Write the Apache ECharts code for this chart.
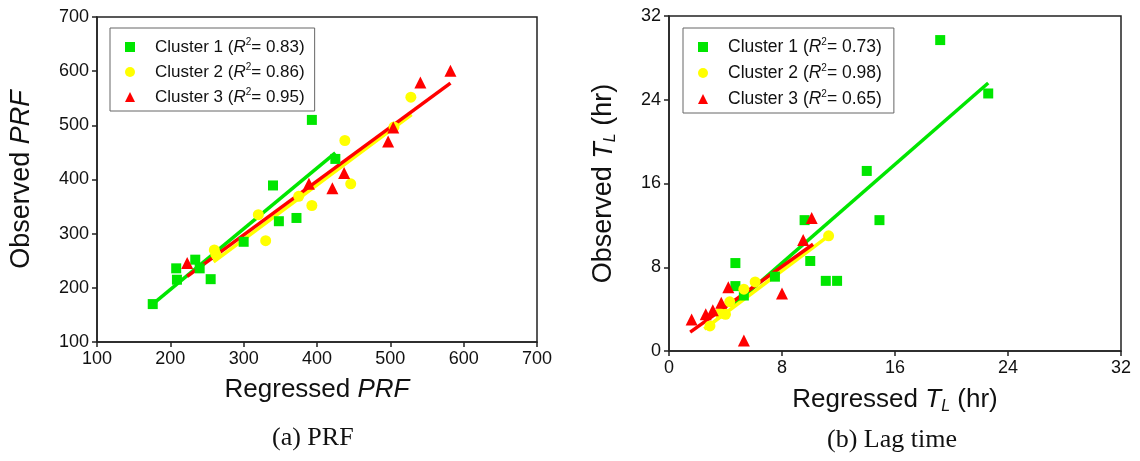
<!DOCTYPE html>
<html>
<head>
<meta charset="utf-8">
<script src="https://cdn.jsdelivr.net/npm/echarts@6/dist/echarts.min.js"></script>
<style>
html,body{margin:0;padding:0;background:#fff;}
#chart{width:1140px;height:461px;}
</style>
</head>
<body>
<div id="chart"></div>
<script>
// (a) PRF - 각 클러스터의 점 (regressed, observed)
var prfC1X = [176, 208, 209, 234, 240, 255, 300, 340, 348, 372, 393, 425];
var prfC1Y = [170, 236, 215, 252, 236, 216, 285, 389, 323, 329, 510, 438];
var prfC2X = [260, 262, 320, 330, 375, 393, 438, 446, 505, 528];
var prfC2Y = [270, 262, 335, 287, 369, 352, 472, 392, 497, 552];
var prfC3X = [223, 389, 421, 437, 497, 504, 541, 582];
var prfC3Y = [246, 392, 384, 412, 470, 496, 579, 601];
// 회귀선 양 끝점
var prfFit1 = [[176, 170], [425, 449]];
var prfFit2 = [[259, 248], [529, 520]];
var prfFit3 = [[223, 221], [582, 578]];
var prfR2 = ['0.83', '0.86', '0.95'];

// (b) Lag time
var lagC1X = [19.2, 22.6, 14.0, 14.9, 9.6, 10.0, 11.1, 11.9, 7.5, 4.7, 4.7, 5.3];
var lagC1Y = [29.7, 24.6, 17.2, 12.5, 12.5, 8.6, 6.7, 6.7, 7.1, 8.4, 6.2, 5.3];
var lagC2X = [2.9, 3.6, 4.0, 4.3, 5.3, 6.1, 11.3];
var lagC2Y = [2.4, 3.6, 3.5, 4.7, 5.9, 6.6, 11.0];
var lagC3X = [1.6, 2.6, 3.1, 3.7, 4.2, 5.3, 8.0, 9.5, 10.1];
var lagC3Y = [3.0, 3.5, 3.9, 4.6, 6.1, 1.0, 5.5, 10.6, 12.7];
var lagFit1 = [[4.6, 4.4], [22.6, 25.6]];
var lagFit2 = [[2.5, 2.1], [11.3, 11.0]];
var lagFit3 = [[1.5, 1.8], [10.2, 10.2]];
var lagR2 = ['0.73', '0.98', '0.65'];

var prfTicks = {min: 100, max: 700, interval: 100};
var lagTicks = {min: 0, max: 32, interval: 8};

var colors = ['#00e600', '#ffff00', '#ff0000'];
var symbols = ['rect', 'circle', 'triangle'];
var sizes = [10, 11, 12];
var FONT = '"Liberation Sans", Arial, sans-serif';

function zip(xs, ys) {
    var out = [];
    for (var i = 0; i < xs.length; i++) out.push([xs[i], ys[i]]);
    return out;
}

function legendRich(fs) {
    return {
        f: {fontFamily: FONT, fontSize: fs, color: '#111', lineHeight: 20, padding: [0, 0, 0, 15]},
        n: {fontFamily: FONT, fontSize: fs, color: '#111', lineHeight: 20},
        i: {fontFamily: FONT, fontSize: fs, color: '#111', fontStyle: 'italic', lineHeight: 20},
        s: {fontFamily: FONT, fontSize: 10, color: '#111', padding: [0, 0, 10, 0], lineHeight: 20}
    };
}

function nameRich(fs) {
    return {
        n: {fontFamily: FONT, fontSize: fs, color: '#111'},
        i: {fontFamily: FONT, fontSize: fs, color: '#111', fontStyle: 'italic'},
        sub: {fontFamily: FONT, fontSize: Math.round(fs * 0.6), color: '#111', fontStyle: 'italic', padding: [14, 0, 0, 0]}
    };
}

function legendLabel(k, r2) {
    return '{f|Cluster ' + (k + 1) + ' (}{i|R}{s|2}{n|= ' + r2 + ')}';
}

function axisX(gi, t, name, gap, fs) {
    return {
        gridIndex: gi, type: 'value', min: t.min, max: t.max, interval: t.interval,
        name: name, nameLocation: 'middle', nameGap: gap,
        nameTextStyle: {rich: nameRich(fs)},
        axisLine: {onZero: false, lineStyle: {color: '#222', width: 1.5}},
        axisTick: {length: 5, lineStyle: {color: '#222', width: 1.5}},
        axisLabel: {fontFamily: FONT, fontSize: 18, color: '#111', margin: 8},
        splitLine: {show: false}
    };
}

var series = [];
var legendNames = [[], []];
var labelMap = {};

function addSet(gi, tag, fits, xsList, ysList, r2) {
    // 회귀선 먼저 그리고 점은 그 위에
    for (var k = 0; k < 3; k++) {
        series.push({
            name: 'fit' + tag + k, type: 'line', xAxisIndex: gi, yAxisIndex: gi,
            data: fits[k], symbol: 'none', silent: true,
            lineStyle: {color: colors[k], width: 3.5}, z: 2
        });
    }
    for (var k = 0; k < 3; k++) {
        var nm = 'Cluster ' + (k + 1) + ' ' + tag;
        legendNames[gi].push(nm);
        labelMap[nm] = legendLabel(k, r2[k]);
        series.push({
            name: nm, type: 'scatter', xAxisIndex: gi, yAxisIndex: gi,
            data: zip(xsList[k], ysList[k]), symbol: symbols[k], symbolSize: sizes[k],
            itemStyle: {color: colors[k], opacity: 1}, z: 3
        });
    }
}

addSet(0, 'a', [prfFit1, prfFit2, prfFit3], [prfC1X, prfC2X, prfC3X], [prfC1Y, prfC2Y, prfC3Y], prfR2);
addSet(1, 'b', [lagFit1, lagFit2, lagFit3], [lagC1X, lagC2X, lagC3X], [lagC1Y, lagC2Y, lagC3Y], lagR2);

function legendBox(gi, left, top, gap, fs, padR) {
    return {
        data: legendNames[gi], orient: 'vertical', left: left, top: top,
        padding: [9, padR, 4, 15], itemGap: gap, itemWidth: 10, itemHeight: 10,
        borderColor: '#666', borderWidth: 1, backgroundColor: '#fff',
        selectedMode: false,
        formatter: function (name) { return labelMap[name]; },
        textStyle: {rich: legendRich(fs)}
    };
}

var myChart = echarts.init(document.getElementById('chart'));

var option = {
    animation: false,
    backgroundColor: '#fff',
    grid: [
        {left: 97, top: 17, width: 440, height: 325, show: true, borderColor: '#222', borderWidth: 1.5, backgroundColor: 'transparent'},
        {left: 669, top: 16, width: 452, height: 335, show: true, borderColor: '#222', borderWidth: 1.5, backgroundColor: 'transparent'}
    ],
    xAxis: [
        axisX(0, prfTicks, '{n|Regressed }{i|PRF}', 35, 26),
        axisX(1, lagTicks, '{n|Regressed }{i|T}{sub|L}{n| (hr)}', 34, 26)
    ],
    yAxis: [
        axisX(0, prfTicks, '{n|Observed }{i|PRF}', 62, 27),
        axisX(1, lagTicks, '{n|Observed }{i|T}{sub|L}{n| (hr)}', 50, 27)
    ],
    legend: [legendBox(0, 110, 28, 5, 17, 10), legendBox(1, 683, 28, 6, 17.5, 12)],
    graphic: [
        {type: 'text', left: 318 - 46, top: 425, style: {text: '(a) PRF', font: '26px "Liberation Serif", "Times New Roman", serif', fill: '#111'}},
        {type: 'text', left: 895 - 68, top: 427, style: {text: '(b) Lag time', font: '26px "Liberation Serif", "Times New Roman", serif', fill: '#111'}}
    ],
    series: series
};

myChart.setOption(option);
</script>
</body>
</html>
